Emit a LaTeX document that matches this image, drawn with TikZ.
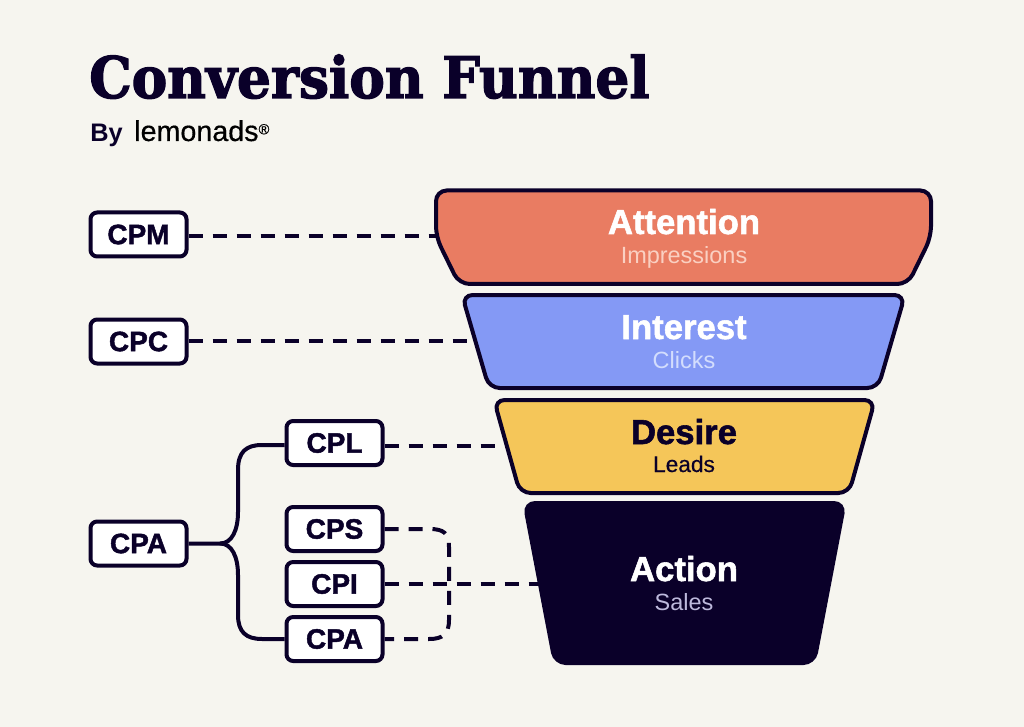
\documentclass[tikz,border=0pt]{standalone}
\usepackage{fontspec}
\setmainfont{Liberation Sans}
\newfontfamily\titlefont[FakeBold=2.2,FakeStretch=0.93]{DejaVu Serif}
\newfontfamily\heavyfont[BoldFeatures={FakeBold=1.6}]{Liberation Sans}
\newfontfamily\mediumfont[FakeBold=0.5]{Liberation Sans}
\usepackage{tikz}
\usetikzlibrary{positioning}
\definecolor{Inkcol}{HTML}{0A0029}
\definecolor{Papercol}{HTML}{F6F5EF}
\definecolor{Attcol}{HTML}{E97C62}
\definecolor{Intcol}{HTML}{8499F5}
\definecolor{Descol}{HTML}{F5C659}
\definecolor{Imprcol}{HTML}{FAD0C2}
\definecolor{Clickcol}{HTML}{D3DDFD}
\definecolor{Salescol}{HTML}{BDB9DC}
\tikzstyle{cost box}=[draw=Inkcol,fill=white,line width=3pt,rounded corners=5pt,minimum width=72pt,minimum height=33pt,inner sep=0pt,text=Inkcol,font=\heavyfont\bfseries\fontsize{21}{24}\selectfont]
\tikzstyle{funnel}=[draw=Inkcol,line width=3pt,rounded corners=8pt]
\tikzstyle{stage}=[inner sep=0pt,anchor=base,font=\heavyfont\bfseries\fontsize{26}{30}\selectfont]
\tikzstyle{sub stage}=[inner sep=0pt,anchor=base,font=\fontsize{17.6}{20}\selectfont]
\tikzstyle{dash line}=[draw=Inkcol,line width=3pt,dash pattern=on 10.5pt off 7.5pt]
\tikzstyle{branch}=[draw=Inkcol,line width=3pt]
\begin{document}
\begin{tikzpicture}[x=0.75pt,y=-0.75pt]
  \useasboundingbox[fill=Papercol] (0,0) rectangle (1024,727);
  % title
  \node[inner sep=0pt,anchor=base west,text=Inkcol,font=\titlefont\bfseries\fontsize{43}{50}\selectfont] (title) at (89,98) {Conversion Funnel};
  \node[inner sep=0pt,anchor=base west,text=Inkcol,font=\bfseries\fontsize{19}{22}\selectfont] (by) at (90,142) {By};
  \node[inner sep=0pt,anchor=base west,text=black,font=\mediumfont\fontsize{21.5}{24}\selectfont] (lemonads) at (134,141) {lemonads\raisebox{5pt}{\fontsize{11}{11}\selectfont\textregistered}};
  % cost boxes
  \node[cost box] (cpm) at (138.5,234.5) {CPM};
  \node[cost box] (cpc) at (138.5,341.5) {CPC};
  \node[cost box] (cpatop) at (138.5,543.5) {CPA};
  \node[cost box] (cpl) at (334.5,443) {CPL};
  \node[cost box] (cps) at (334.5,529) {CPS};
  \node[cost box] (cpi) at (334.5,584) {CPI};
  \node[cost box] (cpa) at (334.5,639) {CPA};
  % funnel edges
  \coordinate (attedge) at (440,236);
  \coordinate (intedge) at (480,341);
  \coordinate (desedge) at (510,446);
  \coordinate (actedge) at (545,584);
  % connectors
  \draw[dash line] (cpm.east |- attedge) -- (attedge);
  \draw[dash line] (cpc.east |- intedge) -- (intedge);
  \draw[dash line] (cpl.east |- desedge) -- (desedge);
  \draw[dash line] (cpi.east) -- (actedge);
  \draw[dash line] (cps.east) -- ++(45,0) .. controls +(14,0) and (449,533) .. (449,547) -- (449,620) .. controls (449,634) and +(14,0) .. (429,639) -- (cpa.east);
  \draw[branch] (cpatop.east) -- (220,543.5) .. controls (232,543.5) and (238,530) .. (238,512) -- (238,470) .. controls (238,452) and (246,445) .. (262,445) -- (cpl.west |- 0,445);
  \draw[branch] (220,543.5) .. controls (232,543.5) and (238,557) .. (238,575) -- (238,615) .. controls (238,632) and (246,639) .. (262,639) -- (cpa.west);
  % funnel
  \path[funnel,fill=Attcol] (436,190.5) -- (931,190.5) -- (931,237) -- (908,284) -- (459,284) -- (436,237) -- cycle;
  \path[funnel,fill=Intcol] (462,295) -- (905,295) -- (878,388) -- (489,388) -- cycle;
  \path[funnel,fill=Descol] (494,400) -- (875,400) -- (849,493) -- (520,493) -- cycle;
  \path[funnel,fill=Inkcol] (524.5,503) -- (844.5,503) -- (814,663) -- (555,663) -- cycle;
  % labels
  \node[stage,text=white] (attention) at (684,234) {Attention};
  \node[sub stage,text=Imprcol] (impressions) at (684,263) {Impressions};
  \node[stage,text=white] (interest) at (684,339) {Interest};
  \node[sub stage,text=Clickcol] (clicks) at (684,368) {Clicks};
  \node[stage,text=Inkcol] (desire) at (684,444) {Desire};
  \node[sub stage,text=Inkcol,font=\mediumfont\fontsize{17}{20}\selectfont] (leads) at (684,472) {Leads};
  \node[stage,text=white] (action) at (684,581) {Action};
  \node[sub stage,text=Salescol] (sales) at (684,610) {Sales};
\end{tikzpicture}
\end{document}
